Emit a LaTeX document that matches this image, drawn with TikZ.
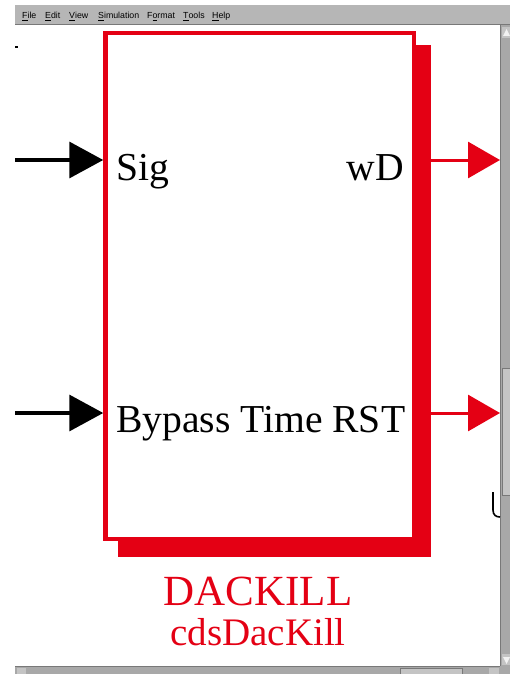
\documentclass[tikz,border=0pt]{standalone}
\usepackage{fontspec}
\setmainfont{Liberation Serif}
\newfontfamily\menufont{Liberation Sans}
\usetikzlibrary{arrows.meta}
\definecolor{dred}{RGB}{228,0,20}
\definecolor{menugray}{RGB}{182,182,182}
\definecolor{sbgray}{RGB}{168,168,168}
\definecolor{sbdark}{RGB}{120,120,120}
\definecolor{sblight}{RGB}{196,196,196}
\tikzset{
  inarrow/.style={line width=3.5pt, black, -{Triangle[length=34pt,width=36pt]}},
  outarrow/.style={line width=3pt, dred, -{Triangle[length=32pt,width=36pt]}},
  porttext/.style={font=\fontsize{39.6}{39.6}\selectfont, inner sep=0pt, text=black},
  labeltext/.style={inner sep=0pt, text=dred},
  menuitem/.style={font=\menufont\fontsize{8.8}{8.8}\selectfont, inner sep=0pt, anchor=base west, text=black},
}
\begin{document}
\begin{tikzpicture}[x=1pt,y=-1pt]
\useasboundingbox (0,0) rectangle (510,674);
\fill[white] (0,0) rectangle (510,674);
% menu bar
\fill[menugray] (15,5) rectangle (510,25);
\draw[sbdark, line width=1pt] (15,25) -- (510,25);
\node[menuitem] (mFile) at (22,19) {\underline{F}ile};
\node[menuitem] (mEdit) at (45,19) {\underline{E}dit};
\node[menuitem] (mView) at (69,19) {\underline{V}iew};
\node[menuitem] (mSim) at (98,19) {\underline{S}imulation};
\node[menuitem] (mFormat) at (147,19) {F\underline{o}rmat};
\node[menuitem] (mTools) at (183,19) {\underline{T}ools};
\node[menuitem] (mHelp) at (212,19) {\underline{H}elp};
% right scrollbar
\fill[sbgray] (500,25) rectangle (510,666);
\draw[sbdark, line width=1pt] (500.5,25) -- (500.5,666);
\fill[sblight] (502,27) rectangle (510,38);
\fill[white!90!gray] (503,36) -- (506.5,29) -- (510,36) -- cycle;
\fill[sblight] (502,368) rectangle (510,495);
\draw[sbdark, line width=0.8pt] (502,368) rectangle (510,495);
\fill[sblight] (502,654) rectangle (510,665);
\fill[white!90!gray] (503,657) -- (506.5,664) -- (510,657) -- cycle;
% bottom scrollbar
\fill[sbgray] (15,666) rectangle (510,674);
\draw[sbdark, line width=1pt] (15,666.5) -- (500,666.5);
\fill[sblight] (17,668) rectangle (26,674);
\fill[sblight] (400,668) rectangle (462,674);
\draw[sbdark, line width=0.6pt] (400,668) rectangle (462,674);
\fill[sblight] (489,668) rectangle (499,674);
% stray marks
\fill[black] (15,46) rectangle (17.5,48.5);
\draw[black, line width=1.6pt] (493,492) -- (493,510) .. controls (493,515) and (496,517) .. (500,517);
% block shadow and block
\node[fill=dred, draw=none, minimum width=313pt, minimum height=512pt, inner sep=0pt, outer sep=0pt] (shd) at (274.5,301) {};
\node[draw=dred, fill=white, line width=4.5pt, minimum width=308.5pt, minimum height=506pt, inner sep=0pt] (blk) at (259.75,286) {};
% ports
\coordinate (in1) at (15,160);
\coordinate (in2) at (15,413);
\coordinate (out1) at (500,160);
\coordinate (out2) at (500,413);
\draw[inarrow] (in1) -- (blk.west |- in1);
\draw[inarrow] (in2) -- (blk.west |- in2);
\draw[outarrow] (shd.east |- out1) -- (out1);
\draw[outarrow] (shd.east |- out2) -- (out2);
% texts
\node[porttext, anchor=base west] (tSig) at (116,180) {Sig};
\node[porttext, anchor=base east] (tWD) at (404,180) {wD};
\node[porttext, anchor=base west] (tByp) at (116,432) {Bypass Time RST};
\node[labeltext, anchor=base, font=\fontsize{43}{43}\selectfont] (tName) at (258,605) {DACKILL};
\node[labeltext, anchor=base, font=\fontsize{39}{39}\selectfont] (tType) at (258,645) {cdsDacKill};
\end{tikzpicture}
\end{document}
